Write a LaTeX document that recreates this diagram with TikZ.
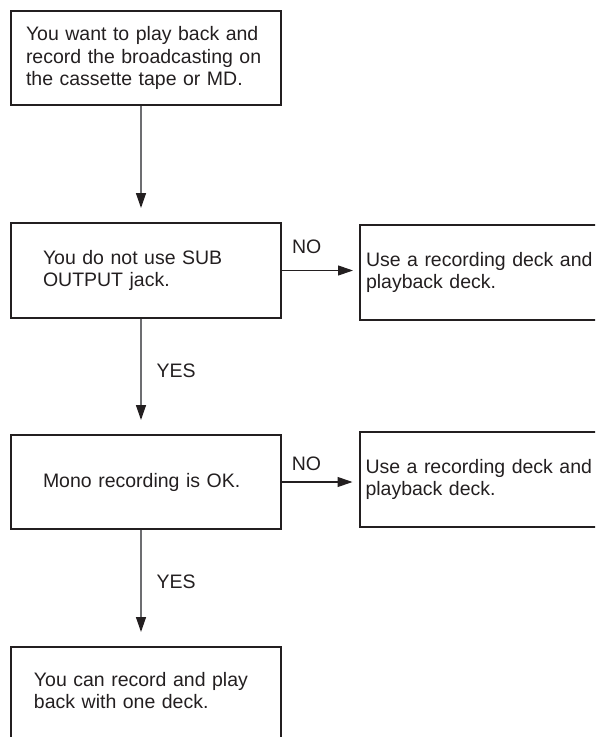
\documentclass[tikz,border=0pt]{standalone}
\usepackage{fontspec}
\setmainfont{Liberation Sans}
\usetikzlibrary{arrows.meta,calc}
\definecolor{ink}{HTML}{231F20}
\definecolor{stem}{HTML}{6D6E71}
\tikzset{
	box/.style={draw=ink, line width=2pt, anchor=north west, align=left, inner ysep=0pt, text=ink, font=\fontsize{19.5pt}{22.5pt}\selectfont},
	flowdown/.style={draw=stem, line width=1.4pt, -{Triangle[length=15pt,width=10pt,color=ink]}, shorten >=14pt},
	flowside/.style={draw=ink, line width=1.1pt, -{Triangle[length=15pt,width=10pt]}, shorten >=6pt},
	answer/.style={text=ink, inner sep=0pt, font=\fontsize{19.5pt}{22.5pt}\selectfont}
}

\begin{document}
\begin{tikzpicture}[x=1pt, y=-1pt]
			%%%%% START %%%%%
			
			\useasboundingbox (0, 0) rectangle (595, 737);
			\clip (0, 0) rectangle (595, 737);
			
			\node[box, inner xsep=15pt, text width=240pt, minimum height=94pt] (want) at (10, 10)
				{You want to play back and\\record the broadcasting on\\the cassette tape or MD.};
			
			\node[box, inner xsep=32pt, text width=206pt, minimum height=95pt] (sub) at (10, 222)
				{You do not use SUB\\OUTPUT jack.};
			\node[box, inner xsep=6pt, text width=280pt, minimum height=95pt] (deckA) at (359, 224)
				{Use a recording deck and\\playback deck.};
			
			\node[box, inner xsep=32pt, text width=206pt, minimum height=94pt] (mono) at (10, 434)
				{Mono recording is OK.};
			\node[box, inner xsep=6pt, text width=280pt, minimum height=95pt] (deckB) at (358.5, 431)
				{Use a recording deck and\\playback deck.};
			
			\node[box, inner xsep=23pt, text width=224pt, inner ysep=24pt, text height=15pt, text depth=90pt] (one) at (10, 646)
				{You can record and play\\back with one deck.};
			
			% down the left column
			\draw[flowdown] ([xshift=-5pt]want.south) -- ([xshift=-5pt]sub.north);
			\draw[flowdown] ([xshift=-5pt]sub.south) -- node[answer, anchor=west, xshift=15pt, pos=.45] {YES} ([xshift=-5pt]mono.north);
			\draw[flowdown] ([xshift=-5pt]mono.south) -- node[answer, anchor=west, xshift=15pt, pos=.45] {YES} ([xshift=-5pt]one.north);
			
			% out to the right
			\draw[flowside] (sub.east) -- node[answer, anchor=south, pos=.32, yshift=16pt] {NO} (sub.east -| deckA.west);
			\draw[flowside] (mono.east) -- node[answer, anchor=south, pos=.32, yshift=11pt] {NO} (mono.east -| deckB.west);
			
			%%%%% END %%%%%
\end{tikzpicture}
\end{document}
